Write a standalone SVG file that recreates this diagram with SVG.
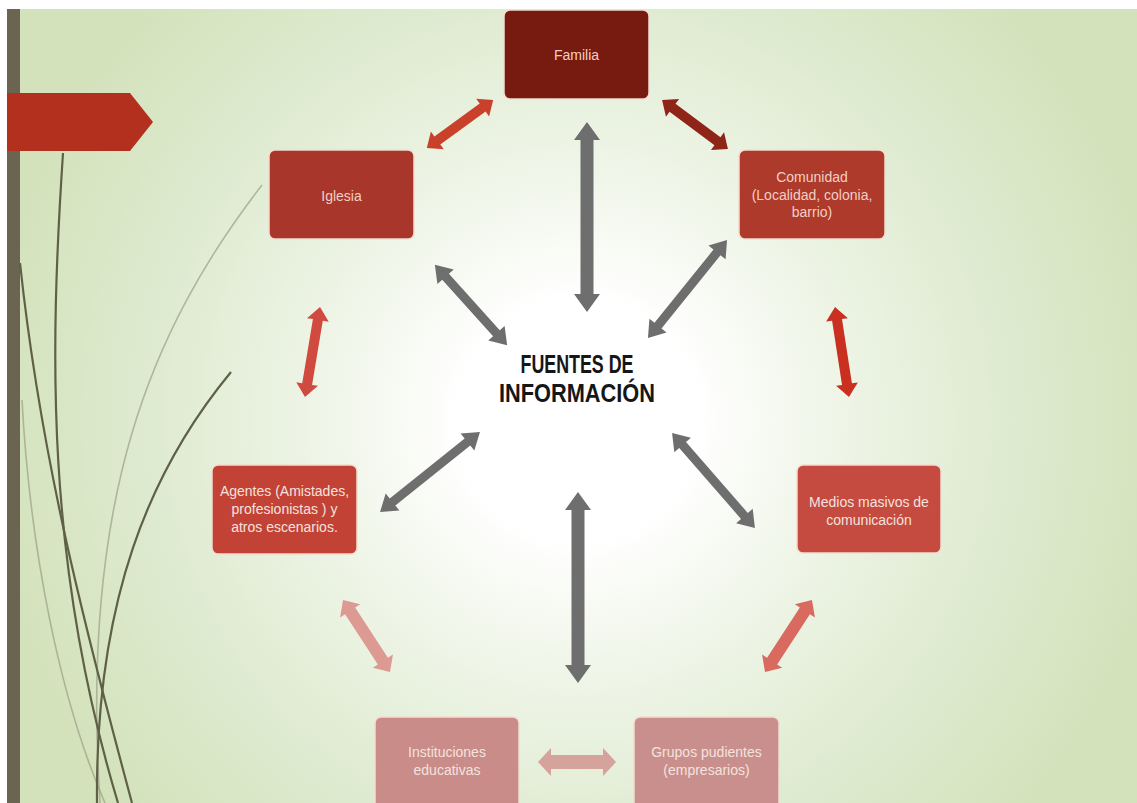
<svg xmlns="http://www.w3.org/2000/svg" width="1137" height="803" viewBox="0 0 1137 803">
<defs>
<radialGradient id="bg" cx="578" cy="420" r="600" gradientUnits="userSpaceOnUse">
<stop offset="0" stop-color="#ffffff"/>
<stop offset="0.2" stop-color="#ffffff"/>
<stop offset="0.4" stop-color="#f1f6ea"/>
<stop offset="0.7" stop-color="#dfebd1"/>
<stop offset="1" stop-color="#d3e2bb"/>
</radialGradient>
<style>
.node rect{stroke:#f4dccf;stroke-width:1.5}
.lbl{font-family:"Liberation Sans",Arial,sans-serif;font-size:14px;text-anchor:middle}
.lt{fill:#f3cfc3}
.lf{fill:#f4e2de}
.grey{fill:#6e6e6e}
.title{font-family:"Liberation Sans",Arial,sans-serif;font-size:25px;font-weight:bold;fill:#161616;text-anchor:middle}
.grass{fill:none;stroke:#5f6047;stroke-width:2.2}
.grass2{fill:none;stroke:#9aa088;stroke-width:1.6;opacity:0.7}
</style>
</defs>
<rect width="1137" height="803" fill="#ffffff"/>
<rect x="7" y="9" width="1130" height="794" fill="url(#bg)"/>
<rect x="7" y="9" width="13" height="794" fill="#6b6450"/>
<polygon points="7,93 130,93 153,122 130,151 7,151" fill="#b3301f"/>
<g id="grass">
<path class="grass2" d="M262 185 C150 330 80 500 100 803"/>
<path class="grass2" d="M22 400 C30 550 60 700 105 803"/>
<path class="grass" d="M63 153 C50 350 45 560 118 803"/>
<path class="grass" d="M20 263 C40 450 80 610 132 803"/>
<path class="grass" d="M231 372 C150 470 95 600 97 803"/>
</g>
<g id="connectors">
<g class="grey">
<path transform="translate(587,217) rotate(90)" d="M-95 0 L-77 -13 L-77 -6.5 L77 -6.5 L77 -13 L95 0 L77 13 L77 6.5 L-77 6.5 L-77 13 Z"/>
<path transform="translate(578,587.5) rotate(90)" d="M-95.5 0 L-77.5 -13 L-77.5 -6.5 L77.5 -6.5 L77.5 -13 L95.5 0 L77.5 13 L77.5 6.5 L-77.5 6.5 L-77.5 13 Z"/>
<path transform="translate(471,305) rotate(48)" d="M-54 0 L-38 -11 L-38 -4.5 L38 -4.5 L38 -11 L54 0 L38 11 L38 4.5 L-38 4.5 L-38 11 Z"/>
<path transform="translate(687.5,289) rotate(128.9)" d="M-63 0 L-47 -11 L-47 -4.5 L47 -4.5 L47 -11 L63 0 L47 11 L47 4.5 L-47 4.5 L-47 11 Z"/>
<path transform="translate(430,472) rotate(141.3)" d="M-64 0 L-48 -11 L-48 -4.5 L48 -4.5 L48 -11 L64 0 L48 11 L48 4.5 L-48 4.5 L-48 11 Z"/>
<path transform="translate(713.5,480.5) rotate(48.9)" d="M-63 0 L-47 -11 L-47 -4.5 L47 -4.5 L47 -11 L63 0 L47 11 L47 4.5 L-47 4.5 L-47 11 Z"/>
</g>
<path fill="#c9412b" transform="translate(460,124) rotate(-36)" d="M-41 0 L-28 -11 L-28 -5 L28 -5 L28 -11 L41 0 L28 11 L28 5 L-28 5 L-28 11 Z"/>
<path fill="#8f2418" transform="translate(695,124.5) rotate(36.6)" d="M-41 0 L-28 -11 L-28 -5 L28 -5 L28 -11 L41 0 L28 11 L28 5 L-28 5 L-28 11 Z"/>
<path fill="#c9301f" transform="translate(842,352) rotate(81.2)" d="M-45.5 0 L-32.5 -11 L-32.5 -5 L32.5 -5 L32.5 -11 L45.5 0 L32.5 11 L32.5 5 L-32.5 5 L-32.5 11 Z"/>
<path fill="#d04a3f" transform="translate(312.5,352) rotate(99.5)" d="M-45.5 0 L-32.5 -11 L-32.5 -5 L32.5 -5 L32.5 -11 L45.5 0 L32.5 11 L32.5 5 L-32.5 5 L-32.5 11 Z"/>
<path fill="#dc9a93" transform="translate(366.5,636) rotate(56.9)" d="M-43 0 L-30 -12 L-30 -6 L30 -6 L30 -12 L43 0 L30 12 L30 6 L-30 6 L-30 12 Z"/>
<path fill="#d96a5f" transform="translate(788.5,636) rotate(123.1)" d="M-43 0 L-30 -12 L-30 -6 L30 -6 L30 -12 L43 0 L30 12 L30 6 L-30 6 L-30 12 Z"/>
<path fill="#d6a29c" transform="translate(577,762)" d="M-39 0 L-26 -14 L-26 -7 L26 -7 L26 -14 L39 0 L26 14 L26 7 L-26 7 L-26 14 Z"/>
</g>
<g id="familia" class="node">
<rect x="504" y="10" width="145" height="89" rx="6" fill="#771a0f"/>
<text class="lbl lt" x="576.5" y="60">Familia</text>
</g>
<g id="iglesia" class="node">
<rect x="269" y="150" width="145" height="89" rx="6" fill="#a8362a"/>
<text class="lbl lt" x="341.5" y="201">Iglesia</text>
</g>
<g id="comunidad" class="node">
<rect x="739" y="150" width="146" height="89" rx="6" fill="#ad3a2b"/>
<text class="lbl lt" x="812" y="182">Comunidad</text>
<text class="lbl lt" x="812" y="200">(Localidad, colonia,</text>
<text class="lbl lt" x="812" y="217">barrio)</text>
</g>
<g id="medios" class="node">
<rect x="797" y="465" width="144" height="88" rx="6" fill="#c54a3f"/>
<text class="lbl lf" x="869" y="507">Medios masivos de</text>
<text class="lbl lf" x="869" y="525">comunicación</text>
</g>
<g id="agentes" class="node">
<rect x="212" y="465" width="145" height="89" rx="6" fill="#c24336"/>
<text class="lbl lf" x="284.5" y="496">Agentes (Amistades,</text>
<text class="lbl lf" x="284.5" y="514">profesionistas ) y</text>
<text class="lbl lf" x="284.5" y="532">atros escenarios.</text>
</g>
<g id="instituciones" class="node">
<rect x="375" y="717" width="144" height="95" rx="6" fill="#c98c88"/>
<text class="lbl lf" x="447" y="757">Instituciones</text>
<text class="lbl lf" x="447" y="775">educativas</text>
</g>
<g id="grupos" class="node">
<rect x="634" y="717" width="145" height="95" rx="6" fill="#c98f8c"/>
<text class="lbl lf" x="706.5" y="757">Grupos pudientes</text>
<text class="lbl lf" x="706.5" y="775">(empresarios)</text>
</g>
<g id="centro">
<text class="title" x="577" y="373" textLength="113" lengthAdjust="spacingAndGlyphs">FUENTES DE</text>
<text class="title" x="577" y="402" textLength="156" lengthAdjust="spacingAndGlyphs">INFORMACIÓN</text>
</g>
</svg>
